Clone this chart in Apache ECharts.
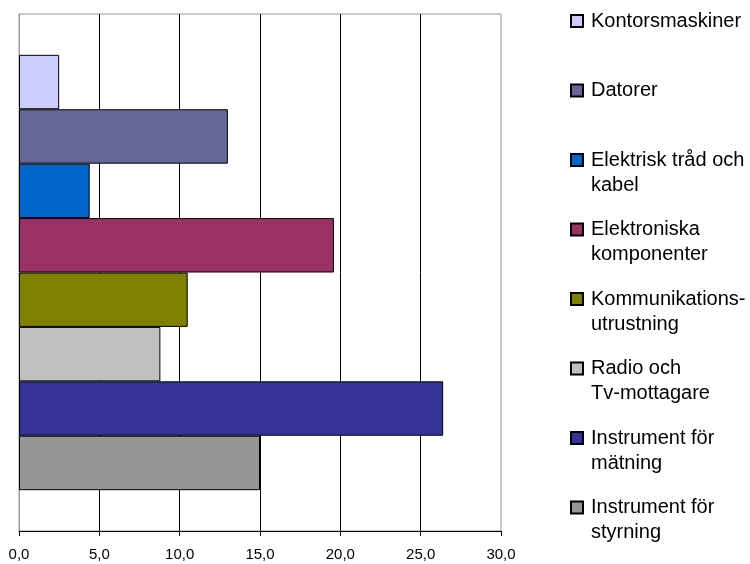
<!DOCTYPE html>
<html>
<head>
<meta charset="utf-8">
<script src="https://cdn.jsdelivr.net/npm/echarts@6/dist/echarts.min.js"></script>
<style>
  html, body { margin: 0; padding: 0; background: #fff; }
  #chart { width: 750px; height: 564px; }
</style>
</head>
<body>
<div id="chart"></div>
<script>
// ---- data ----
const categories = [
  'Kontorsmaskiner',
  'Datorer',
  'Elektrisk tråd och\nkabel',
  'Elektroniska\nkomponenter',
  'Kommunikations-\nutrustning',
  'Radio och\nTv-mottagare',
  'Instrument för\nmätning',
  'Instrument för\nstyrning'
];
const values = [2.5, 13.0, 4.4, 19.6, 10.5, 8.8, 26.4, 15.0];
const colors = ['#CCCCFF', '#666699', '#0066CC', '#993366', '#808000', '#C0C0C0', '#333399', '#969696'];
const xMin = 0, xMax = 30, xStep = 5;

// ---- chart ----
const FONT = '"Liberation Sans", Arial, sans-serif';
const LINE_H = 25;

const series = categories.map((name, i) => ({
  name: name,
  type: 'bar',
  data: [values[i]],
  barGap: '0%',
  barCategoryGap: '15.8%',
  itemStyle: { color: colors[i], borderColor: '#000', borderWidth: 1 },
  emphasis: { disabled: true }
}));

const legends = categories.map((name, i) => {
  const lines = name.split('\n').length;
  const iconCenter = 21 + i * 69.5;
  const half = (lines === 1 ? LINE_H : LINE_H * (2 * lines - 1)) / 2;
  return {
    data: [name],
    left: 570,
    top: iconCenter - half,
    padding: 0,
    orient: 'vertical',
    icon: 'rect',
    itemWidth: 12,
    itemHeight: 12,
    selectedMode: false,
    // blank leading lines keep the marker level with the first text line
    formatter: n => '\n'.repeat(lines - 1) + n,
    textStyle: {
      fontFamily: FONT,
      fontSize: 20,
      color: '#000',
      lineHeight: LINE_H,
      padding: [0, 0, 0, 3]
    }
  };
});

const chart = echarts.init(document.getElementById('chart'), null, { renderer: 'canvas' });
chart.setOption({
  animation: false,
  backgroundColor: '#fff',
  grid: {
    left: 19, right: 249, top: 14, bottom: 33,
    show: true, borderColor: '#999', borderWidth: 1, backgroundColor: 'transparent'
  },
  xAxis: {
    type: 'value',
    min: xMin, max: xMax, interval: xStep,
    axisLine: { show: true, lineStyle: { color: '#000', width: 1 } },
    axisTick: { show: true, inside: false, length: 5, lineStyle: { color: '#000' } },
    axisLabel: {
      fontFamily: FONT, fontSize: 15, color: '#000', margin: 16,
      formatter: v => v.toFixed(1).replace('.', ',')
    },
    splitLine: { show: true, showMinLine: false, showMaxLine: false, lineStyle: { color: '#000', width: 1 } }
  },
  yAxis: {
    type: 'category',
    data: [''],
    axisLine: { show: true, lineStyle: { color: '#999' } },
    axisTick: { show: false },
    axisLabel: { show: false },
    splitLine: { show: false }
  },
  legend: legends,
  series: series
});
</script>
</body>
</html>
